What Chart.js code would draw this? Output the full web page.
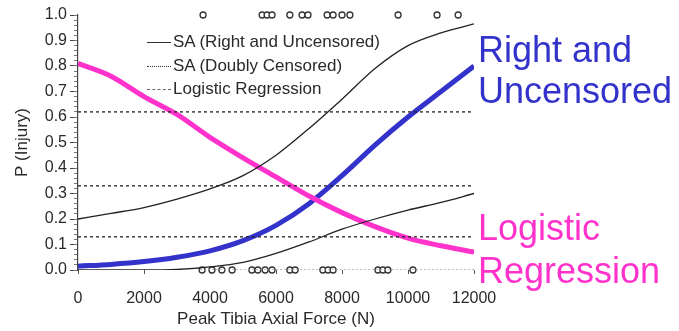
<!DOCTYPE html>
<html>
<head>
<meta charset="utf-8">
<script src="https://cdn.jsdelivr.net/npm/chart.js@4/dist/chart.umd.min.js"></script>
<style>
    body { margin: 0; background: #fff; }
    #wrap { position: relative; width: 679px; height: 331px; font-family: "Liberation Sans", Arial, sans-serif; }
    .big { position: absolute; left: 478px; font-size: 36px; white-space: nowrap; }
    #rightLabel { top: 29px; line-height: 41px; color: #3333cc; }
    #logLabel { top: 206px; line-height: 43px; color: #ff33cc; }
    #legend { position: absolute; left: 147px; top: 30px; font-size: 17px; color: #2a2a2a; }
    #legend div { height: 23.5px; line-height: 23px; white-space: nowrap; }
    #legend span.s { display: inline-block; width: 24px; margin-right: 2px; vertical-align: middle; border-top: 1.5px solid #333; }
</style>
</head>
<body>
<div id="wrap">
    <canvas id="graph" width="679" height="331"></canvas>
    <div id="legend">
        <div><span class="s"></span>SA (Right and Uncensored)</div>
        <div><span class="s" style="border-top-style: dotted;"></span>SA (Doubly Censored)</div>
        <div><span class="s" style="border-top-style: dashed; border-top-color: #666;"></span>Logistic Regression</div>
    </div>
    <div class="big" id="rightLabel">Right and<br>Uncensored</div>
    <div class="big" id="logLabel">Logistic<br>Regression</div>
</div>
<script>
// DADOS
const forca = [0, 1000, 2000, 3000, 4000, 5000, 6000, 7000, 8000, 9000, 10000, 11000, 12000];
const direitaSemCensura = [0.015, 0.022, 0.033, 0.05, 0.075, 0.115, 0.175, 0.26, 0.37, 0.49, 0.6, 0.7, 0.8];
const regressaoLogistica = [0.81, 0.76, 0.68, 0.61, 0.52, 0.44, 0.365, 0.29, 0.225, 0.17, 0.125, 0.095, 0.07];
const saSuperior = [0.2, 0.222, 0.245, 0.278, 0.318, 0.37, 0.45, 0.555, 0.67, 0.79, 0.88, 0.93, 0.965];
const saInferior = [0, 0, 0, 0.002, 0.012, 0.03, 0.065, 0.11, 0.16, 0.2, 0.235, 0.265, 0.3];
const duplamenteCensurado = [0.62, 0.33, 0.13];
const comLesao = [3790, 5580, 5730, 5880, 6420, 6790, 6970, 7550, 7730, 8000, 8240, 9700, 10880, 11520];
const semLesao = [3760, 4060, 4360, 4670, 5270, 5450, 5670, 5880, 6420, 6580, 7420, 7580, 7730, 9090, 9240, 9390, 10150];
const faixaCensura = [3700, 12000];

const pares = (xs, ys) => xs.map((x, i) => ({ x: x, y: ys[i] }));
const fonte = { family: "'Liberation Sans', Arial, sans-serif", size: 16 };
const corTexto = "#2a2a2a";

const linhasCensura = duplamenteCensurado.map(v => ({
    data: [{ x: 0, y: v }, { x: 12000, y: v }],
    borderColor: "#222",
    borderWidth: 1.3,
    borderDash: [3, 3],
    pointRadius: 0,
}));

// CONSTRUIR GRÁFICO
const ctx = document.getElementById("graph");
new Chart(ctx, {
    type: "line",
    data: {
        datasets: [
            ...linhasCensura,
            {
                data: faixaCensura.map(x => ({ x: x, y: 0 })),
                borderColor: "#999",
                borderWidth: 1.3,
                borderDash: [2, 2],
                pointRadius: 0,
            },
            {
                data: pares(forca, saSuperior),
                borderColor: "#222",
                borderWidth: 1.3,
                pointRadius: 0,
                cubicInterpolationMode: "monotone",
            },
            {
                data: pares(forca, saInferior),
                borderColor: "#222",
                borderWidth: 1.3,
                pointRadius: 0,
                cubicInterpolationMode: "monotone",
            },
            {
                data: comLesao.map(x => ({ x: x, y: 1 })),
                showLine: false,
                pointRadius: 3,
                pointBorderWidth: 1.3,
                pointBorderColor: "#333",
                pointBackgroundColor: "#fff",
                clip: false,
            },
            {
                data: semLesao.map(x => ({ x: x, y: 0 })),
                showLine: false,
                pointRadius: 3,
                pointBorderWidth: 1.3,
                pointBorderColor: "#333",
                pointBackgroundColor: "#fff",
                clip: false,
            },
            {
                data: pares(forca, regressaoLogistica),
                borderColor: "#ff33cc",
                borderWidth: 5,
                pointRadius: 0,
                cubicInterpolationMode: "monotone",
            },
            {
                data: pares(forca, direitaSemCensura),
                borderColor: "#3333cc",
                borderWidth: 5,
                pointRadius: 0,
                cubicInterpolationMode: "monotone",
            },
        ],
    },
    options: {
        responsive: false,
        animation: false,
        layout: {
            padding: { top: 15, right: 205, left: 0, bottom: 0 },
        },
        scales: {
            x: {
                type: "linear",
                min: 0,
                max: 12000,
                afterFit: (s) => { s.height = 61; },
                border: { display: false },
                grid: { drawOnChartArea: false, tickLength: 4, color: "#555" },
                ticks: {
                    stepSize: 2000,
                    padding: 15,
                    color: corTexto,
                    font: fonte,
                    maxRotation: 0,
                    callback: (v) => String(v),
                },
                title: {
                    display: true,
                    text: "Peak Tibia Axial Force (N)",
                    color: corTexto,
                    font: { family: fonte.family, size: 17 },
                    padding: { top: 0, bottom: 1 },
                },
            },
            y: {
                min: 0,
                max: 1,
                weight: 1,
                afterFit: (s) => { s.width = 78; },
                border: { color: "#444", width: 1.2 },
                grid: { drawOnChartArea: false, tickLength: 8, color: "#444" },
                ticks: {
                    stepSize: 0.1,
                    padding: 3,
                    color: corTexto,
                    font: fonte,
                    callback: (v) => v.toFixed(1),
                },
                title: {
                    display: true,
                    text: "P (Injury)",
                    color: corTexto,
                    font: { family: fonte.family, size: 17 },
                    padding: { top: 12, bottom: 0 },
                },
            },
            yMinor: {
                position: "left",
                min: 0,
                max: 1,
                weight: -1,
                afterFit: (s) => { s.width = 0; },
                border: { display: false },
                grid: { drawOnChartArea: false, tickLength: 4, color: "#777" },
                ticks: { stepSize: 0.02, autoSkip: false, callback: () => "" },
            },
        },
        plugins: {
            legend: { display: false },
            tooltip: { enabled: false },
        },
    },
});
</script>
</body>
</html>
